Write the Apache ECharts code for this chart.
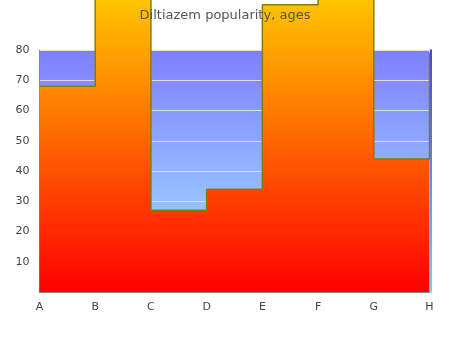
<!DOCTYPE html>
<html>
<head>
<meta charset="utf-8">
<script src="https://cdn.jsdelivr.net/npm/echarts@6/dist/echarts.min.js"></script>
<style>
  html, body { margin: 0; padding: 0; background: #fff; }
  #chart { width: 450px; height: 350px; }
</style>
</head>
<body>
<div id="chart"></div>
<script>
// Step profile of popularity by age group
const categories = ['A', 'B', 'C', 'D', 'E', 'F', 'G', 'H'];
const popularity = [68, 100, 27, 34, 95, 103, 44, 79];
const yTicks = [0, 10, 20, 30, 40, 50, 60, 70, 80];

const chart = echarts.init(document.getElementById('chart'));

chart.setOption({
  animation: false,
  title: {
    text: 'Diltiazem popularity, ages',
    left: 'center',
    top: 4,
    textStyle: { fontFamily: 'DejaVu Sans', fontSize: 13, fontWeight: 'normal', color: '#555' }
  },
  grid: {
    left: 39.5, right: 20.5, top: 50, bottom: 58,
    show: true,
    borderWidth: 0,
    backgroundColor: new echarts.graphic.LinearGradient(0, 0, 0, 1, [
      { offset: 0, color: '#7f7fff' },
      { offset: 1, color: '#a3e8ff' }
    ])
  },
  xAxis: {
    type: 'category',
    data: categories,
    boundaryGap: false,
    axisTick: { show: false },
    axisLine: { lineStyle: { color: '#888', width: 1 } },
    axisLabel: { fontFamily: 'DejaVu Sans', fontSize: 11, color: '#444', margin: 10 },
    splitLine: { show: false }
  },
  yAxis: [{
    type: 'value',
    min: yTicks[0],
    max: yTicks[yTicks.length - 1],
    interval: 10,
    axisLine: { show: true, lineStyle: { color: '#888', width: 1 } },
    axisTick: { show: false },
    axisLabel: {
      fontFamily: 'DejaVu Sans', fontSize: 11, color: '#444', margin: 10,
      formatter: v => (v === 0 ? '' : String(v))
    },
    splitLine: { show: true, lineStyle: { color: '#ddd', width: 1 } }
  }, {
    type: 'value',
    position: 'right',
    offset: 1.5,
    min: yTicks[0],
    max: yTicks[yTicks.length - 1],
    interval: 10,
    axisLine: {
      show: true,
      lineStyle: {
        width: 1.5,
        color: new echarts.graphic.LinearGradient(0, 0, 0, 1, [
          { offset: 0, color: '#0000ff' },
          { offset: 1, color: '#33ccff' }
        ])
      }
    },
    axisTick: { show: false },
    axisLabel: { show: false },
    splitLine: { show: false }
  }],
  series: [{
    type: 'line',
    step: 'end',
    data: popularity,
    clip: false,
    symbol: 'none',
    lineStyle: { color: '#808000', width: 1.5 },
    areaStyle: {
      opacity: 1,
      color: new echarts.graphic.LinearGradient(0, 0, 0, 1, [
        { offset: 0, color: '#ffd200' },
        { offset: 1, color: '#ff0000' }
      ])
    }
  }]
});
</script>
</body>
</html>
